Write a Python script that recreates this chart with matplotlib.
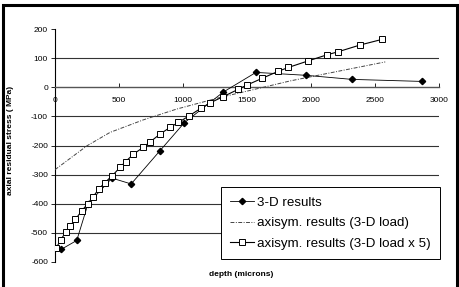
import matplotlib
matplotlib.use("Agg")
import matplotlib.pyplot as plt
from matplotlib.patches import Rectangle

plt.rcParams['font.family'] = ['Liberation Sans', 'DejaVu Sans']

# 3-D results
d3_depth = [47, 170, 258, 445, 595, 820, 1010, 1313, 1570, 1960, 2320, 2867]
d3_stress = [-557, -526, -400, -312, -332, -218, -122, -17, 51, 41, 27, 20]

# axisym. results (3-D load)
ax_depth = [0, 250, 430, 690, 950, 1290, 1600, 1840, 2100, 2580]
ax_stress = [-283, -201, -155, -112, -75, -35, -3, 22, 45, 87]

# axisym. results (3-D load x 5)
ax5_depth = [10, 45, 85, 115, 160, 210, 255, 297, 342, 388, 447, 508, 552, 612,
             690, 745, 820, 898, 963, 1049, 1140, 1210, 1315, 1432, 1497, 1620,
             1745, 1823, 1975, 2122, 2213, 2383, 2552]
ax5_stress = [-552, -523, -498, -478, -453, -424, -400, -376, -350, -328, -304,
              -275, -255, -230, -206, -187, -161, -138, -121, -98, -72, -54, -32,
              -7, 7, 31, 55, 68, 90, 111, 122, 145, 164]

labels = ['3-D results', 'axisym. results (3-D load)', 'axisym. results (3-D load x 5)']
xticks = [0, 500, 1000, 1500, 2000, 2500, 3000]
yticks = [-600, -500, -400, -300, -200, -100, 0, 100, 200]

W, H = 460, 287
fig = plt.figure(figsize=(W / 100, H / 100), dpi=100)
ax = fig.add_axes([55 / W, 1 - 262 / H, (439 - 55) / W, (262 - 29) / H])

ax.plot(d3_depth, d3_stress, color='black', lw=0.6, marker='D', ms=3.2,
        mfc='black', mec='black', label=labels[0], zorder=4)
ax.plot(ax_depth, ax_stress, color='#444444', lw=0.7, ls=(0, (4, 1.5, 1, 1.5)),
        label=labels[1], zorder=3)
ax.plot(ax5_depth, ax5_stress, color='black', lw=0.8, marker='s', ms=5,
        mfc='white', mec='black', mew=0.7, label=labels[2], zorder=5)

ax.set_xlim(0, 3000)
ax.set_ylim(-600, 200)
ax.set_xticks(xticks)
ax.set_yticks(yticks)
ax.set_xticklabels([str(v) for v in xticks])
ax.set_yticklabels([str(v) for v in yticks])

for s in ['top', 'right']:
    ax.spines[s].set_visible(False)
ax.spines['bottom'].set_position(('data', 0))
ax.spines['bottom'].set_color('#555555')
ax.spines['bottom'].set_linewidth(1.0)
ax.spines['left'].set_linewidth(0.8)

ax.tick_params(axis='x', direction='in', length=3, width=0.6, labelsize=6, pad=7)
ax.tick_params(axis='y', direction='out', length=3, width=0.6, labelsize=6, pad=2)

ax.grid(axis='y', color='#333333', lw=0.8)
ax.grid(axis='x', visible=False)
for gl, v in zip(ax.get_ygridlines(), yticks):
    if v in (-600, 0, 200):
        gl.set_visible(False)

ax.set_ylabel('axial residual stress ( MPa)', fontsize=6, fontweight='bold')
ax.yaxis.set_label_coords(-0.108, 0.52)
fig.text(0.525, 1 - 274 / H, 'depth (microns)', fontsize=6, fontweight='bold',
         ha='center', va='center')

leg = ax.legend(loc='lower right', bbox_to_anchor=(1.003, 0.012), fontsize=9.6,
                frameon=True, fancybox=False, edgecolor='black', framealpha=1,
                handlelength=1.8, handletextpad=0.2, borderpad=0.7,
                labelspacing=0.62, borderaxespad=0)
leg.get_frame().set_linewidth(0.7)

fig.patches.append(Rectangle((3 / W, -0.05), (457 - 3) / W, 1.05 - 5 / H,
                             transform=fig.transFigure, fill=False,
                             edgecolor='black', lw=2.2, zorder=10))

fig.savefig('out.png', dpi=100)
